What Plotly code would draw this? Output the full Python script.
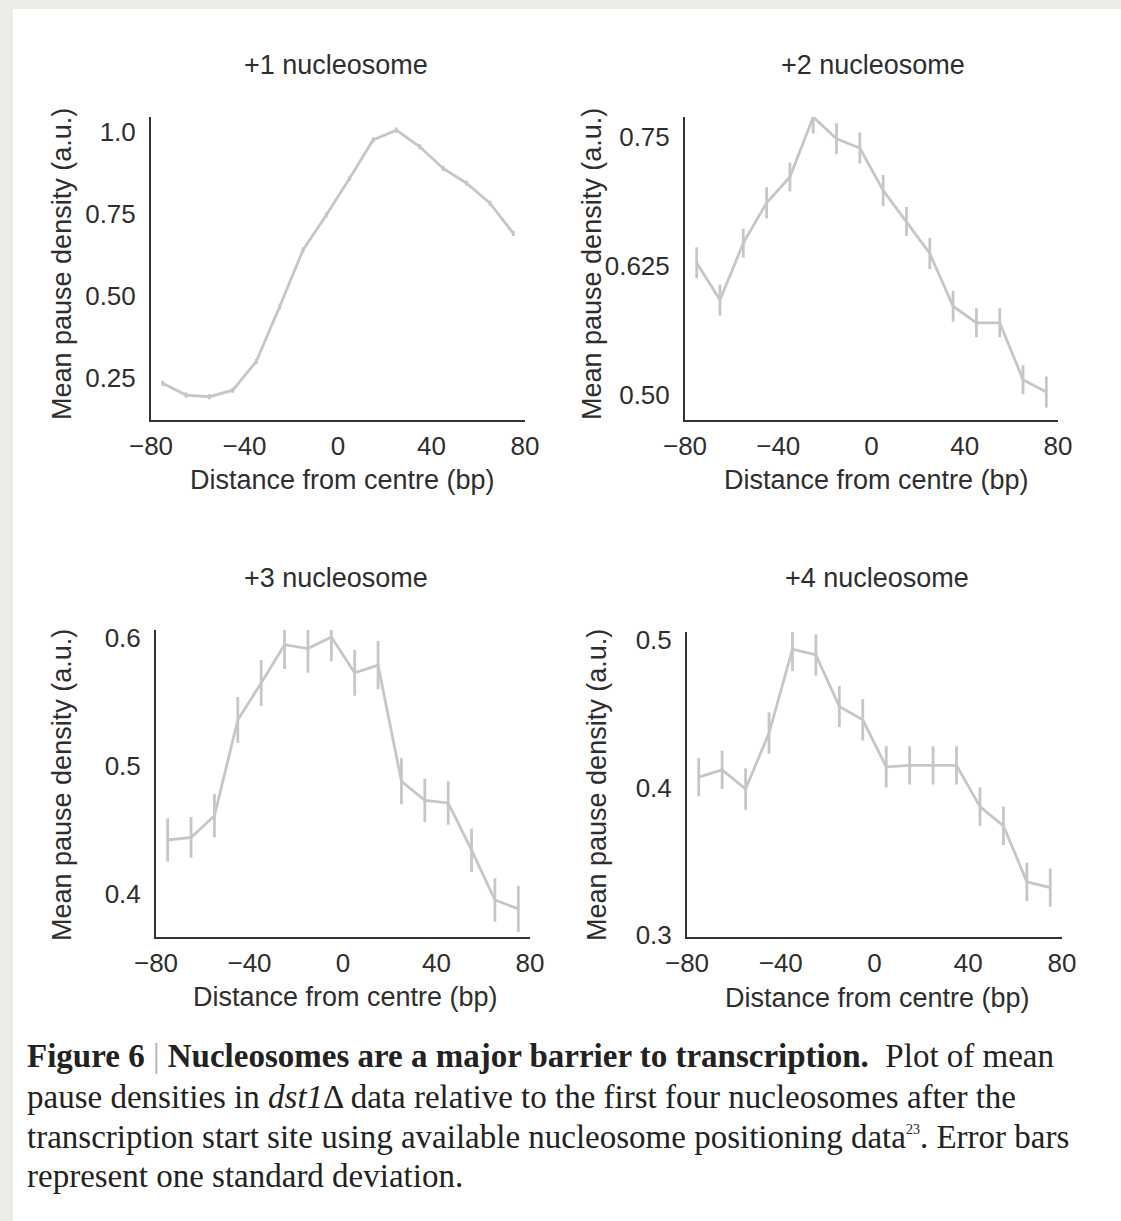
import plotly.graph_objects as go

W, H = 1121, 1221

# ---------------- data ----------------
distance_bp = [-75, -65, -55, -45, -35, -25, -15, -5, 5, 15, 25, 35, 45, 55, 65, 75]

nuc1_mean = [0.234, 0.198, 0.193, 0.213, 0.300, 0.467, 0.640, 0.747, 0.859, 0.976,
             1.006, 0.955, 0.889, 0.844, 0.783, 0.691]
nuc1_sd = [0.008] * 16

nuc2_mean = [0.628, 0.592, 0.647, 0.686, 0.711, 0.769, 0.748, 0.739, 0.698, 0.668,
             0.637, 0.586, 0.570, 0.570, 0.515, 0.503]
nuc2_sd = [0.015, 0.015, 0.014, 0.015, 0.014, 0.016, 0.015, 0.015, 0.015, 0.014,
           0.015, 0.015, 0.014, 0.014, 0.014, 0.015]

nuc3_mean = [0.442, 0.444, 0.461, 0.536, 0.565, 0.595, 0.592, 0.601, 0.573, 0.579,
             0.488, 0.473, 0.471, 0.434, 0.395, 0.388]
nuc3_sd = [0.017, 0.016, 0.017, 0.018, 0.018, 0.019, 0.019, 0.019, 0.018, 0.019,
           0.018, 0.017, 0.017, 0.017, 0.017, 0.018]

nuc4_mean = [0.407, 0.412, 0.399, 0.437, 0.494, 0.490, 0.455, 0.446, 0.414, 0.415,
             0.415, 0.415, 0.387, 0.374, 0.336, 0.332]
nuc4_sd = [0.013, 0.013, 0.014, 0.014, 0.015, 0.014, 0.014, 0.014, 0.014, 0.013,
           0.013, 0.013, 0.013, 0.013, 0.013, 0.013]

panel_titles = ["+1 nucleosome", "+2 nucleosome", "+3 nucleosome", "+4 nucleosome"]
x_tickvals = [-80, -40, 0, 40, 80]
x_ticktext = ["\u221280", "\u221240", "0", "40", "80"]
y_tickvals = [[0.25, 0.50, 0.75, 1.0], [0.50, 0.625, 0.75], [0.4, 0.5, 0.6], [0.3, 0.4, 0.5]]
y_ticktext = [["0.25", "0.50", "0.75", "1.0"], ["0.50", "0.625", "0.75"],
              ["0.4", "0.5", "0.6"], ["0.3", "0.4", "0.5"]]
y_ranges = [[0.122, 1.046], [0.476, 0.769], [0.366, 0.6065], [0.2985, 0.5056]]
x_label = "Distance from centre (bp)"
y_label = "Mean pause density (a.u.)"

caption_lines = [
    "<b>Figure 6</b> <span style='color:#b0b0b0'>|</span> <b>Nucleosomes are a major barrier to transcription.</b>  Plot of mean",
    "pause densities in <i>dst1</i>\u0394 data relative to the first four nucleosomes after the",
    "transcription start site using available nucleosome positioning data<sup><span style='font-size:14px'>23</span></sup>. Error bars",
    "represent one standard deviation.",
]

means = [nuc1_mean, nuc2_mean, nuc3_mean, nuc4_mean]
sds = [nuc1_sd, nuc2_sd, nuc3_sd, nuc4_sd]

# ---------------- layout geometry (pixels) ----------------
boxes = [(151, 525, 117, 420), (685, 1058, 117, 420),
         (156, 530, 630, 937), (687, 1062, 632, 937)]
title_pos = [(336, 65), (873, 65), (336, 578), (877, 578)]
xlab_pos = [(342, 480), (876, 480), (345, 997), (877, 998)]
ylab_pos = [(62, 264), (592, 264), (62, 785), (597, 785)]

def px(x):
    return x / W

def py(y):
    return 1 - y / H

FONT = "Liberation Sans, Arial, Helvetica, sans-serif"
TXT = "#2e2e2e"
LINE = "#c6c6c6"

fig = go.Figure()
layout = dict(
    width=W, height=H,
    margin=dict(l=0, r=0, t=0, b=0),
    paper_bgcolor="#ecebe8",
    plot_bgcolor="white",
    showlegend=False,
    font=dict(family=FONT, size=26, color=TXT),
)

annotations = []
for i in range(4):
    n = "" if i == 0 else str(i + 1)
    x0, x1, yt, yb = boxes[i]
    fig.add_trace(go.Scatter(
        x=distance_bp, y=means[i],
        mode="lines",
        line=dict(color=LINE, width=2.8),
        error_y=dict(type="data", array=sds[i], visible=True,
                     color=LINE, thickness=2.8, width=0),
        xaxis="x" + n, yaxis="y" + n,
    ))
    layout["xaxis" + n] = dict(
        domain=[px(x0), px(x1)], anchor="y" + n, range=[-80, 80],
        tickvals=x_tickvals, ticktext=x_ticktext, ticks="",
        showline=True, linecolor="#333333", linewidth=2,
        showgrid=False, zeroline=False, automargin=False,
        tickfont=dict(size=26, color=TXT), ticklabelstandoff=2,
    )
    layout["yaxis" + n] = dict(
        domain=[py(yb), py(yt)], anchor="x" + n, range=y_ranges[i],
        tickvals=y_tickvals[i], ticktext=y_ticktext[i], ticks="",
        showline=True, linecolor="#333333", linewidth=2,
        showgrid=False, zeroline=False, automargin=False,
        tickfont=dict(size=26, color=TXT), ticklabelstandoff=8,
    )
    tx, ty = title_pos[i]
    annotations.append(dict(text=panel_titles[i], x=px(tx), y=py(ty), xref="paper", yref="paper",
                            showarrow=False, xanchor="center", yanchor="middle",
                            font=dict(size=27, color=TXT, family=FONT)))
    lx, ly = xlab_pos[i]
    annotations.append(dict(text=x_label, x=px(lx), y=py(ly), xref="paper", yref="paper",
                            showarrow=False, xanchor="center", yanchor="middle",
                            font=dict(size=27, color=TXT, family=FONT)))
    vx, vy = ylab_pos[i]
    annotations.append(dict(text=y_label, x=px(vx), y=py(vy), xref="paper", yref="paper",
                            showarrow=False, xanchor="center", yanchor="middle", textangle=-90,
                            font=dict(size=27, color=TXT, family=FONT)))

cap_y = [1056, 1097, 1137, 1176]
for line, cy in zip(caption_lines, cap_y):
    annotations.append(dict(text=line, x=px(25), y=py(cy), xref="paper", yref="paper",
                            showarrow=False, xanchor="left", yanchor="middle",
                            font=dict(size=33, color="#222222",
                                      family="Liberation Serif, Times New Roman, serif")))

layout["annotations"] = annotations
layout["shapes"] = [dict(type="rect", xref="paper", yref="paper",
                         x0=px(13), x1=1.01, y0=-0.01, y1=py(9),
                         fillcolor="white", line=dict(width=0), layer="below")]
fig.update_layout(**layout)
fig.write_html("out.html")
